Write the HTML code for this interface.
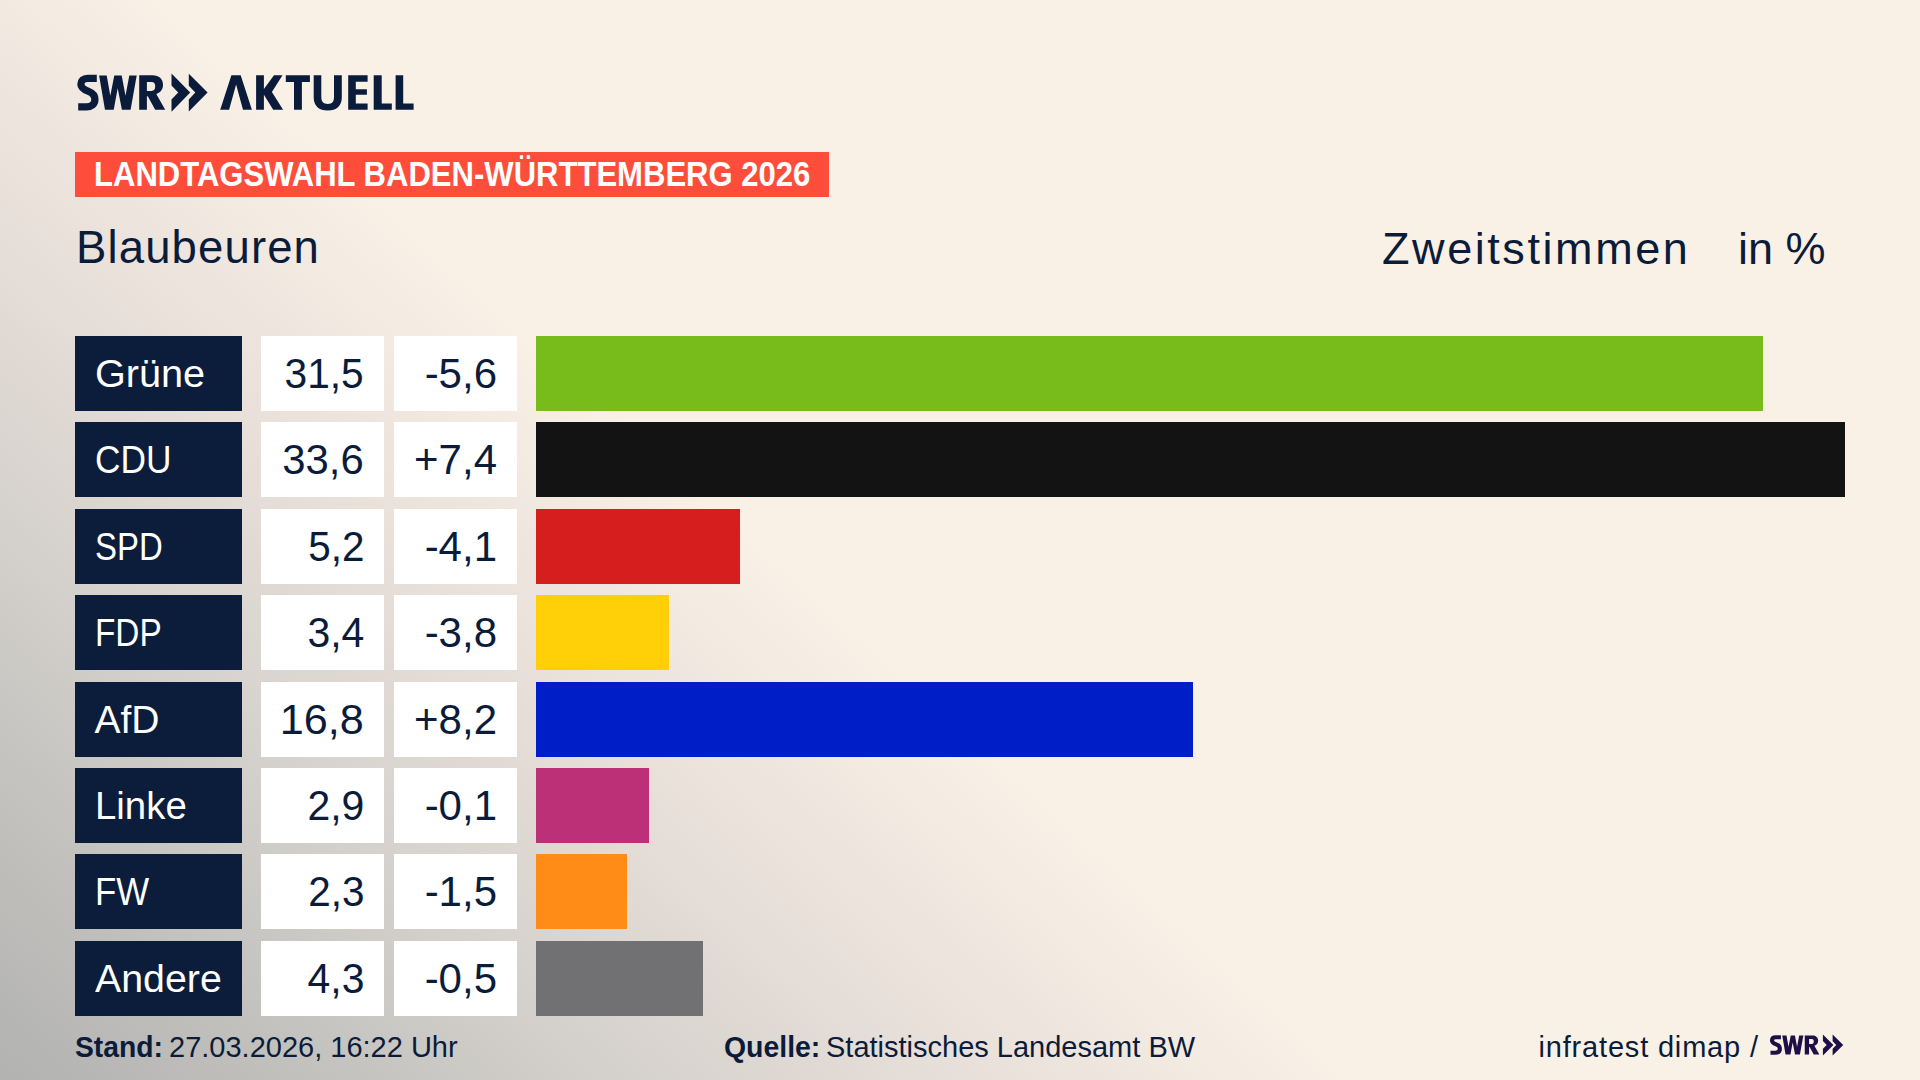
<!DOCTYPE html>
<html lang="de">
<head>
<meta charset="utf-8">
<title>Landtagswahl Baden-Württemberg 2026 – Blaubeuren</title>
<style>
*{margin:0;padding:0;box-sizing:border-box}
html,body{width:1920px;height:1080px;overflow:hidden}
body{position:relative;font-family:"Liberation Sans",sans-serif;color:#0b1c3a;
background:#f9f1e6 linear-gradient(42deg,#b2b2b1 0px,#c1c0bd 200px,#d3d0cb 400px,#e4dcd6 600px,#f2e9e1 800px,#f9f1e6 910px) no-repeat;}
.abs{position:absolute;white-space:nowrap}
#logo{position:absolute;left:0;top:0}
#tag{position:absolute;left:75px;top:152px;width:754px;height:45px;background:#fe4e3b}
#tag span{position:absolute;left:19.2px;top:-0.6px;line-height:45px;font-weight:bold;font-size:35px;color:#fff;white-space:nowrap;transform-origin:0 0;transform:scaleX(0.887)}
#place{left:76px;top:223.2px;font-size:45.5px;line-height:50px;letter-spacing:1.13px}
#zs{left:1382px;top:223.5px;font-size:45px;line-height:50px;letter-spacing:2.57px}
#inp{left:1738px;top:223.5px;font-size:45px;line-height:50px}
.row{position:absolute;left:0;height:75px;width:1920px}
.nm{position:absolute;left:75px;top:0;width:167px;height:75px;background:#0b1d3b;color:#fff;font-size:39px;line-height:75px;padding-left:19.5px}
.nm span{display:inline-block;transform-origin:0 50%}
.v1 span,.v2 span{display:inline-block;transform-origin:100% 50%}
.v1,.v2{position:absolute;top:0;height:75px;background:#fff;font-size:42px;line-height:75px;text-align:right;color:#0b1c3a}
.v1{left:261px;width:123px;padding-right:20px}
.v2{left:394px;width:123px;padding-right:20px}
.bar{position:absolute;left:536px;top:0;height:75px}
.ft{top:1027px;font-size:29px;line-height:40px}
.ft b{font-weight:bold}
</style>
</head>
<body>
<svg id="logo" width="430" height="130" viewBox="0 0 430 130">
 <defs>
  <g id="swr" fill="currentColor">
   <path d="M96.8 78.45 H87.5 C83.3 78.45 80.9 80.8 80.9 84.3 C80.9 88.3 84.5 89.9 88.5 91.4 C92.5 92.9 94.9 95.2 94.9 99.5 C94.9 104.3 91.5 106.9 86.5 106.9 H78.2" fill="none" stroke="currentColor" stroke-width="7.3"/>
   <path d="M99.1 75.4 H106.7 L110.3 95.7 L114.3 75.4 H121.7 L125.5 95.7 L129.3 75.4 H136.7 L130.6 109.8 H121.9 L117.7 88.3 L113.7 109.8 H105 Z"/>
   <path fill-rule="evenodd" d="M139.2 75.2 H152.5 C159 75.2 163 78.8 163 84.8 C163 89.4 160.5 92.6 156.3 94 L165.2 109.8 H155.2 L147.8 96.2 H146.9 V109.8 H139.2 Z M146.9 81.9 V90.9 H151.6 C154 90.9 155.2 89.3 155.2 86.3 C155.2 83.4 154 81.9 151.6 81.9 Z"/>
   <path d="M171.5 73.6 L190.2 92.5 L171.5 111.7 L171.5 99.5 L178.2 92.5 L171.5 85.6 Z"/>
   <path d="M188.8 73.8 L207.6 92.5 L188.8 111.5 L188.8 99.5 L195.3 92.5 L188.8 85.8 Z"/>
  </g>
 </defs>
 <use href="#swr" style="color:#0b1c3b"/>
 <g fill="#0b1c3b">
  <path d="M231.4 75.2 H240.7 L251.9 109.8 H243 L236.1 84.5 L229.1 109.8 H220.2 Z"/>
  <path d="M256.1 75.2 H263.9 V89.1 L274 75.2 H282.5 L271.9 92.1 L283.1 109.8 H273.2 L263.9 94.8 V109.8 H256.1 Z"/>
  <path d="M285.8 75.2 H309.9 V81.9 H301.9 V109.8 H294 V81.9 H285.8 Z"/>
  <path d="M313.7 75.2 H321.3 V97 C321.3 101.5 323.5 103.9 327.85 103.9 C332.2 103.9 334 101.5 334 97 V75.2 H341.8 V97.5 C341.8 106 336.5 110.5 327.75 110.5 C319 110.5 313.7 106 313.7 97.5 Z"/>
  <path d="M348.2 75.2 H367.6 V81.7 H355.8 V89.3 H366.9 V94.8 H355.8 V103.4 H367.6 V109.8 H348.2 Z"/>
  <path d="M373.7 75.2 H381.7 V103.4 H391.8 V109.8 H373.7 Z"/>
  <path d="M395.6 75.2 H403.2 V103.4 H413.6 V109.8 H395.6 Z"/>
 </g>
</svg>

<div id="tag"><span>LANDTAGSWAHL BADEN-WÜRTTEMBERG 2026</span></div>

<div class="abs" id="place">Blaubeuren</div>
<div class="abs" id="zs">Zweitstimmen</div>
<div class="abs" id="inp">in %</div>

<div class="row" style="top:336.0px"><div class="nm"><span style="transform:scaleX(1.016)">Grüne</span></div><div class="v1"><span style="transform:scaleX(0.969)">31,5</span></div><div class="v2"><span>-5,6</span></div><div class="bar" style="width:1227px;background:#78bc1c"></div></div>
<div class="row" style="top:422.4px"><div class="nm"><span style="transform:scaleX(0.905)">CDU</span></div><div class="v1"><span style="transform:scaleX(0.996)">33,6</span></div><div class="v2"><span>+7,4</span></div><div class="bar" style="width:1309px;background:#131313"></div></div>
<div class="row" style="top:508.8px"><div class="nm"><span style="transform:scaleX(0.844)">SPD</span></div><div class="v1"><span style="transform:scaleX(0.963)">5,2</span></div><div class="v2"><span>-4,1</span></div><div class="bar" style="width:204px;background:#d61e1e"></div></div>
<div class="row" style="top:595.2px"><div class="nm"><span style="transform:scaleX(0.855)">FDP</span></div><div class="v1"><span style="transform:scaleX(0.975)">3,4</span></div><div class="v2"><span>-3,8</span></div><div class="bar" style="width:133px;background:#ffcf08"></div></div>
<div class="row" style="top:681.6px"><div class="nm"><span style="transform:scaleX(1.0)">AfD</span></div><div class="v1"><span style="transform:scaleX(1.028)">16,8</span></div><div class="v2"><span>+8,2</span></div><div class="bar" style="width:657px;background:#001ec8"></div></div>
<div class="row" style="top:768.0px"><div class="nm"><span style="transform:scaleX(0.984)">Linke</span></div><div class="v1"><span style="transform:scaleX(0.975)">2,9</span></div><div class="v2"><span>-0,1</span></div><div class="bar" style="width:113px;background:#bb3076"></div></div>
<div class="row" style="top:854.4px"><div class="nm"><span style="transform:scaleX(0.893)">FW</span></div><div class="v1"><span style="transform:scaleX(0.963)">2,3</span></div><div class="v2"><span>-1,5</span></div><div class="bar" style="width:91px;background:#ff8c17"></div></div>
<div class="row" style="top:940.8px"><div class="nm"><span style="transform:scaleX(1.008)">Andere</span></div><div class="v1"><span style="transform:scaleX(0.974)">4,3</span></div><div class="v2"><span>-0,5</span></div><div class="bar" style="width:167px;background:#717173"></div></div>

<div class="abs ft" style="left:75px"><b style="display:inline-block;transform:scaleX(0.975);transform-origin:0 0">Stand:</b></div>
<div class="abs ft" style="left:169px">27.03.2026, 16:22 Uhr</div>
<div class="abs ft" style="left:723.5px"><b style="display:inline-block;transform:scaleX(0.98);transform-origin:0 0">Quelle:</b></div>
<div class="abs ft" style="left:826px">Statistisches Landesamt BW</div>
<div class="abs ft" style="left:1538.5px;letter-spacing:0.82px">infratest dimap /</div>
<svg class="abs" style="left:0;top:0" width="1920" height="1080" viewBox="0 0 1920 1080">
 <use href="#swr" style="color:#1e1046" transform="translate(1769.8 1034.5) scale(0.562 0.551) translate(-77 -73.6)"/>
</svg>
</body>
</html>
